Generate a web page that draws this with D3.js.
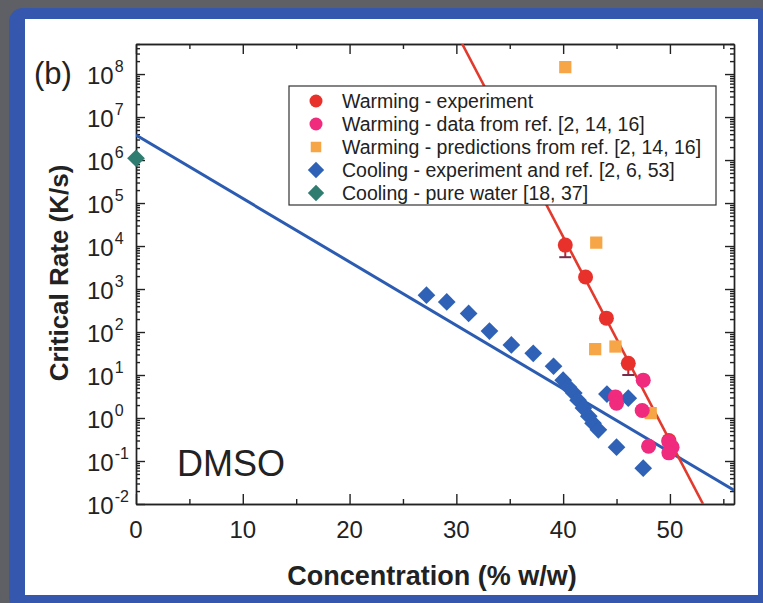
<!DOCTYPE html>
<html>
<head>
<meta charset="utf-8">
<title>Critical Rate vs Concentration - DMSO</title>
<script src="https://d3js.org/d3.v7.min.js"></script>
<style>
  body { margin: 0; background: #5f5f66; }
  svg { display: block; }
  .axis path, .axis line { stroke: #222; stroke-width: 1.4px; }
  .tick-label { font-family: "Liberation Sans", Arial, sans-serif; font-size: 24px; fill: #222; }
  .axis-title { font-family: "Liberation Sans", Arial, sans-serif; font-weight: bold; fill: #222; }
  .legend-text { font-family: "Liberation Sans", Arial, sans-serif; font-size: 19.5px; fill: #222; }
</style>
</head>
<body>
<div id="chart"></div>
<script>
// ---- data ----
// warming - experiment (red circles), concentration % w/w and rate K/s
var warmExpC = [40.2, 42.1, 44.05, 46.1, 49.9];
var warmExpV = [1.05e4, 1.9e3, 2.1e2, 18.7, 0.3];
var warmExpLow = [5.5e3, null, null, 10, null];   // lower end of error bars

// warming - data from ref. [2, 14, 16] (pink circles)
var warmRefC = [44.9, 45.0, 47.5, 47.4, 48.0, 49.9, 50.2, 49.9];
var warmRefV = [3.1, 2.2, 7.6, 1.5, 0.22, 0.28, 0.21, 0.155];

// warming - predictions from ref. [2, 14, 16] (orange squares)
var warmPredC = [40.2, 43.1, 43.0, 44.9, 48.2];
var warmPredV = [1.45e8, 1.2e4, 40, 46, 1.3];

// cooling - experiment and ref. [2, 6, 53] (blue diamonds)
var coolExpC = [27.2, 29.1, 31.15, 33.1, 35.15, 37.2, 39.1,
                40.0, 40.5, 41.0, 41.4, 41.9, 42.4, 42.8, 43.3,
                44.1, 46.1, 45.0, 47.5];
var coolExpV = [720, 500, 270, 105, 50, 32, 16,
                7.6, 5.2, 3.8, 2.6, 1.7, 1.1, 0.76, 0.53,
                3.6, 2.9, 0.21, 0.068];

// cooling - pure water [18, 37] (teal diamond)
var waterC = [0];
var waterV = [1.1e6];

// fitted lines (end points)
var warmFitC = [30.55, 53.1];
var warmFitV = [5e8, 1e-2];
var coolFitC = [0, 56];
var coolFitV = [3.8e6, 0.021];

var xMajor = [0, 10, 20, 30, 40, 50];
var yExp = [-2, -1, 0, 1, 2, 3, 4, 5, 6, 7, 8];

var legendLabels = [
  "Warming - experiment",
  "Warming - data from ref. [2, 14, 16]",
  "Warming - predictions from ref. [2, 14, 16]",
  "Cooling - experiment and ref. [2, 6, 53]",
  "Cooling - pure water [18, 37]"
];

var red = "#e8312b", pink = "#f02a7c", orange = "#f6a646",
    blue = "#2f62b6", teal = "#2f7d70";

// ---- canvas and frame ----
var W = 763, H = 603;
var svg = d3.select("#chart").append("svg")
  .attr("width", W).attr("height", H);

svg.append("rect").attr("x", 0).attr("y", 0).attr("width", W).attr("height", H)
  .attr("fill", "#5f5f66");
svg.append("rect").attr("x", 9).attr("y", 8).attr("width", W).attr("height", H)
  .attr("rx", 14).attr("fill", "#3558ae");
svg.append("rect").attr("x", 25).attr("y", 19).attr("width", 733).attr("height", 576)
  .attr("fill", "#ffffff");

// ---- scales ----
var margin = { left: 136, right: 734, top: 44, bottom: 504 };
var x = d3.scaleLinear().domain([0, 56]).range([margin.left, margin.right]);
var y = d3.scaleLog().domain([1e-2, 5e8]).range([margin.bottom, margin.top]);

var yMinor = [];
yExp.concat([-3]).forEach(function(e) {
  for (var k = 2; k <= 9; k++) {
    var v = k * Math.pow(10, e);
    if (v >= 1e-2 && v <= 5e8) yMinor.push(v);
  }
});
var xMinor = [5, 15, 25, 35, 45, 55];

// ---- axes (ticks point inward, mirrored on top and right) ----
function addAxis(axis, tx, ty) {
  var g = svg.append("g").attr("class", "axis")
    .attr("transform", "translate(" + tx + "," + ty + ")")
    .call(axis);
  g.selectAll("text").remove();
  return g;
}
addAxis(d3.axisBottom(x).tickValues(xMajor).tickSize(-10).tickSizeOuter(0), 0, margin.bottom);
addAxis(d3.axisBottom(x).tickValues(xMinor).tickSize(-5).tickSizeOuter(0), 0, margin.bottom);
addAxis(d3.axisTop(x).tickValues(xMajor).tickSize(-10).tickSizeOuter(0), 0, margin.top);
addAxis(d3.axisTop(x).tickValues(xMinor).tickSize(-5).tickSizeOuter(0), 0, margin.top);
addAxis(d3.axisLeft(y).tickValues(yExp.map(function(e) { return Math.pow(10, e); })).tickSize(-9).tickSizeOuter(0), margin.left, 0);
addAxis(d3.axisLeft(y).tickValues(yMinor).tickSize(-4).tickSizeOuter(0), margin.left, 0);
addAxis(d3.axisRight(y).tickValues(yExp.map(function(e) { return Math.pow(10, e); })).tickSize(-9).tickSizeOuter(0), margin.right, 0);
addAxis(d3.axisRight(y).tickValues(yMinor).tickSize(-4).tickSizeOuter(0), margin.right, 0);

// tick labels
svg.selectAll(".xlab").data(xMajor).enter().append("text")
  .attr("class", "tick-label")
  .attr("x", function(d) { return x(d); })
  .attr("y", margin.bottom + 34)
  .attr("text-anchor", "middle")
  .text(function(d) { return d; });

var ylab = svg.selectAll(".ylab").data(yExp).enter().append("text")
  .attr("class", "tick-label")
  .attr("x", margin.left - 21)
  .attr("y", function(d) { return y(Math.pow(10, d)) + 10; })
  .attr("text-anchor", "end")
  .text("10");
ylab.append("tspan")
  .attr("dx", 1).attr("dy", -12)
  .style("font-size", "16px")
  .text(function(d) { return d; });
ylab.each(function() {
  // keep the base number aligned; superscript hangs to the right
  d3.select(this).attr("text-anchor", "start").attr("x", margin.left - 49);
});

// axis titles
svg.append("text").attr("class", "axis-title")
  .attr("x", 432).attr("y", 585)
  .attr("text-anchor", "middle")
  .style("font-size", "27px")
  .text("Concentration (% w/w)");

svg.append("text").attr("class", "axis-title")
  .attr("transform", "translate(68," + 273 + ") rotate(-90)")
  .attr("text-anchor", "middle")
  .style("font-size", "26px")
  .text("Critical Rate (K/s)");

svg.append("text")
  .attr("x", 34).attr("y", 84)
  .style("font-family", "Liberation Sans, Arial, sans-serif")
  .style("font-size", "31px").style("fill", "#222")
  .text("(b)");

svg.append("text")
  .attr("x", 177).attr("y", 476)
  .style("font-family", "Liberation Sans, Arial, sans-serif")
  .style("font-size", "36px").style("fill", "#222")
  .text("DMSO");

// ---- plot contents ----
svg.append("clipPath").attr("id", "clip")
  .append("rect").attr("x", margin.left).attr("y", margin.top)
  .attr("width", margin.right - margin.left).attr("height", margin.bottom - margin.top);
var plot = svg.append("g").attr("clip-path", "url(#clip)");

function zip(cs, vs) { return cs.map(function(c, i) { return { c: c, v: vs[i], i: i }; }); }

var line = d3.line().x(function(d) { return x(d.c); }).y(function(d) { return y(d.v); });

plot.append("path").datum(zip(coolFitC, coolFitV))
  .attr("d", line).attr("fill", "none").attr("stroke", "#2b5cb2").attr("stroke-width", 3);

var diamond = d3.symbol().type(d3.symbolDiamond2).size(200);
var square = d3.symbol().type(d3.symbolSquare).size(150);

plot.selectAll(".cool").data(zip(coolExpC, coolExpV)).enter().append("path")
  .attr("d", diamond)
  .attr("transform", function(d) { return "translate(" + x(d.c) + "," + y(d.v) + ")"; })
  .attr("fill", blue);

plot.append("path").datum(zip(warmFitC, warmFitV))
  .attr("d", line).attr("fill", "none").attr("stroke", "#e23a2c").attr("stroke-width", 2.6);

plot.selectAll(".pred").data(zip(warmPredC, warmPredV)).enter().append("path")
  .attr("d", square)
  .attr("transform", function(d) { return "translate(" + x(d.c) + "," + y(d.v) + ")"; })
  .attr("fill", orange);

// error bars on red points
var errs = zip(warmExpC, warmExpV).filter(function(d) { return warmExpLow[d.i] != null; });
plot.selectAll(".err").data(errs).enter().append("line")
  .attr("x1", function(d) { return x(d.c); }).attr("x2", function(d) { return x(d.c); })
  .attr("y1", function(d) { return y(d.v); })
  .attr("y2", function(d) { return y(warmExpLow[d.i]); })
  .attr("stroke", "#b02a3a").attr("stroke-width", 2);
plot.selectAll(".errcap").data(errs).enter().append("line")
  .attr("x1", function(d) { return x(d.c) - 6; }).attr("x2", function(d) { return x(d.c) + 6; })
  .attr("y1", function(d) { return y(warmExpLow[d.i]); })
  .attr("y2", function(d) { return y(warmExpLow[d.i]); })
  .attr("stroke", "#7a2a4a").attr("stroke-width", 2);

plot.selectAll(".wexp").data(zip(warmExpC, warmExpV)).enter().append("circle")
  .attr("cx", function(d) { return x(d.c); })
  .attr("cy", function(d) { return y(d.v); })
  .attr("r", 7.5).attr("fill", red);

plot.selectAll(".wref").data(zip(warmRefC, warmRefV)).enter().append("circle")
  .attr("cx", function(d) { return x(d.c); })
  .attr("cy", function(d) { return y(d.v); })
  .attr("r", 7.5).attr("fill", pink);

// pure water point sits on the axis, so draw it unclipped
svg.selectAll(".water").data(zip(waterC, waterV)).enter().append("path")
  .attr("d", diamond)
  .attr("transform", function(d) { return "translate(" + x(d.c) + "," + y(d.v) + ")"; })
  .attr("fill", teal);

// ---- legend ----
var lg = svg.append("g").attr("transform", "translate(289,86)");
lg.append("rect").attr("width", 427).attr("height", 119)
  .attr("fill", "#fff").attr("stroke", "#333").attr("stroke-width", 1.2);

var legendMarks = [
  function(g) { g.append("circle").attr("r", 6.5).attr("fill", red); },
  function(g) { g.append("circle").attr("r", 6.5).attr("fill", pink); },
  function(g) { g.append("path").attr("d", d3.symbol().type(d3.symbolSquare).size(110)).attr("fill", orange); },
  function(g) { g.append("path").attr("d", d3.symbol().type(d3.symbolDiamond2).size(170)).attr("fill", blue); },
  function(g) { g.append("path").attr("d", d3.symbol().type(d3.symbolDiamond2).size(170)).attr("fill", teal); }
];
legendLabels.forEach(function(label, i) {
  var row = lg.append("g").attr("transform", "translate(0," + (15 + i * 23) + ")");
  legendMarks[i](row.append("g").attr("transform", "translate(27,0)"));
  row.append("text").attr("class", "legend-text")
    .attr("x", 53).attr("y", 7)
    .text(label);
});
</script>
</body>
</html>
